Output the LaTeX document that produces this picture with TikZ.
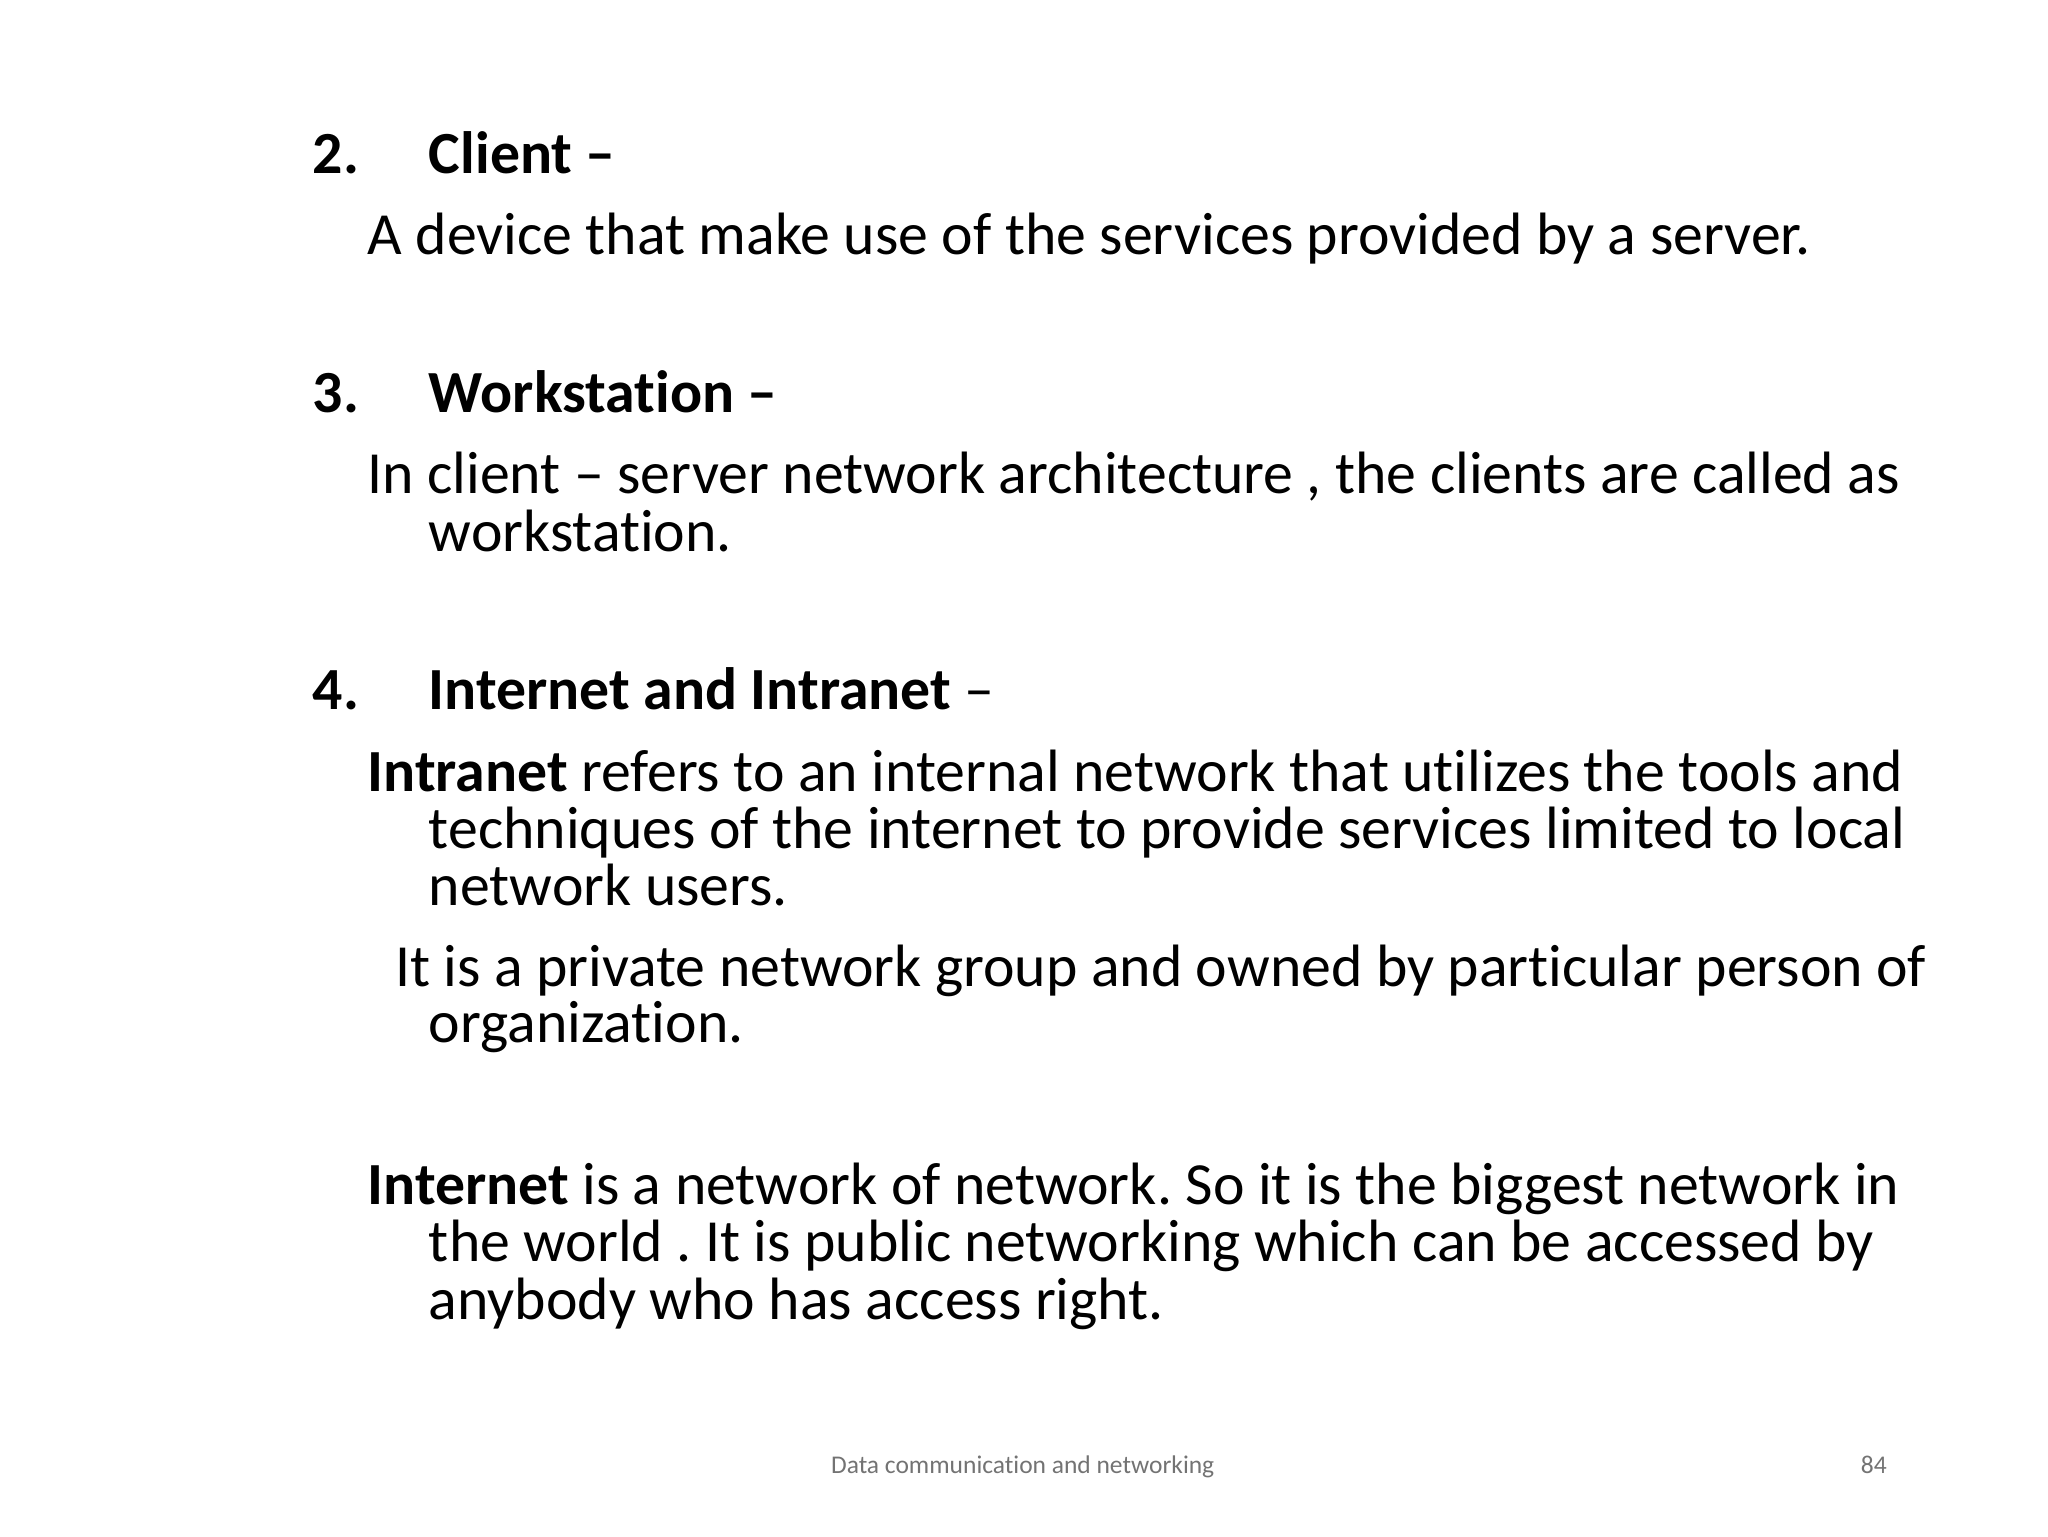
\documentclass[tikz,border=0pt]{standalone}
\usepackage{fontspec}
\setmainfont[Ligatures=NoCommon]{Carlito}
\frenchspacing
\begin{document}
\begin{tikzpicture}[x=0.0162cm,y=-0.0162cm,
  t/.style={anchor=base west,inner sep=0pt,font=\fontsize{21.1}{22}\selectfont},
  f/.style={inner sep=0pt,font=\fontsize{9}{10}\selectfont,text=black!55}]
\useasboundingbox (0,0) rectangle (1568,1176);
\node[t] (n2) at (239,133) {\textbf{2.}};
\node[t] (h2) at (328,133) {\textbf{Client --}};
\node[t] (l1) at (281,195) {A device that make use of the services provided by a server.};
\node[t] (n3) at (239,316) {\textbf{3.}};
\node[t] (h3) at (328,316) {\textbf{Workstation --}};
\node[t] (l2) at (281,378) {In client -- server network architecture , the clients are called as};
\node[t] (l3) at (328,422) {workstation.};
\node[t] (n4) at (239,543) {\textbf{4.}};
\node[t] (h4) at (328,543) {\textbf{Internet and Intranet} --};
\node[t] (l4) at (281,606) {\textbf{Intranet} refers to an internal network that utilizes the tools and};
\node[t] (l5) at (328,650) {techniques of the internet to provide services limited to local};
\node[t] (l6) at (328,693) {network users.};
\node[t] (l7) at (302,755) {It is a private network group and owned by particular person of};
\node[t] (l8) at (328,798) {organization.};
\node[t] (l9) at (281,922) {\textbf{Internet} is a network of network. So it is the biggest network in};
\node[t] (l10) at (328,966) {the world . It is public networking which can be accessed by};
\node[t] (l11) at (328,1010) {anybody who has access right.};
\node[f,anchor=base] (ft) at (783,1128) {Data communication and networking};
\node[f,anchor=base east] (pg) at (1445,1128) {84};
\end{tikzpicture}
\end{document}
